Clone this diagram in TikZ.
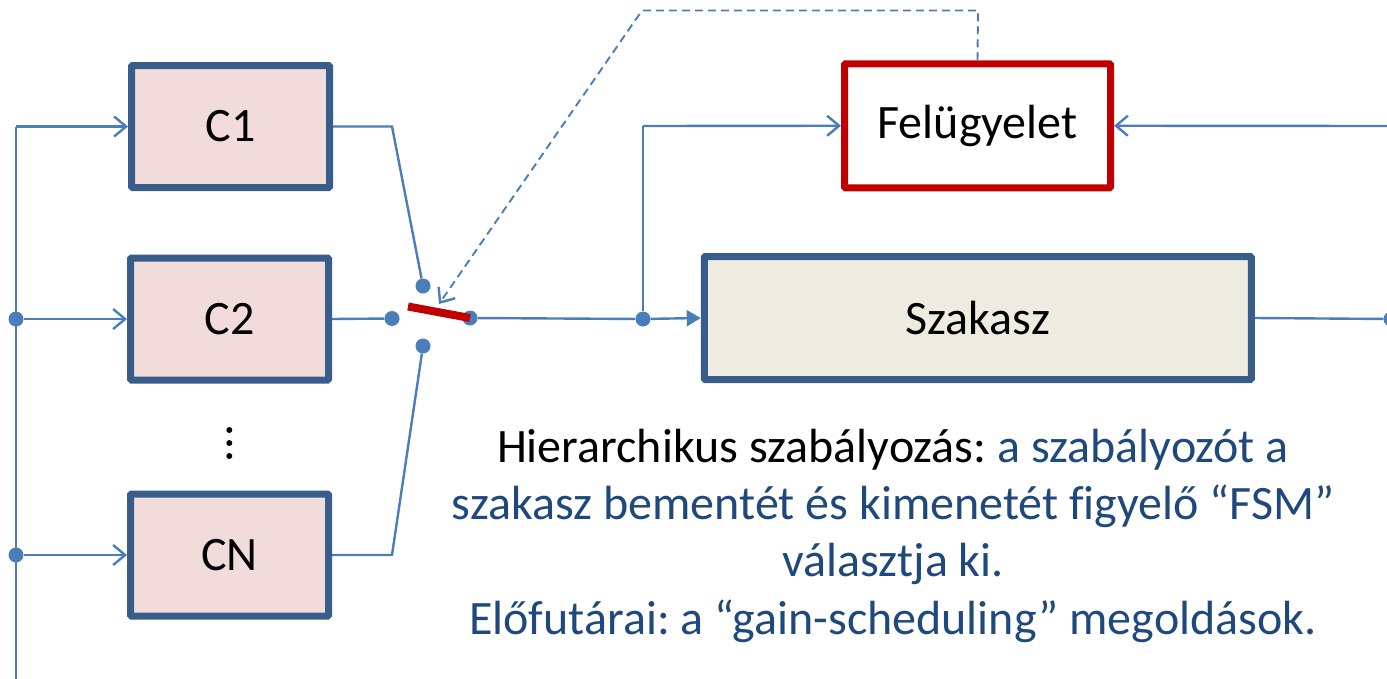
\documentclass[tikz,border=0pt]{standalone}
\usepackage{fontspec}
\setmainfont{Carlito}[Ligatures=NoCommon]
\usetikzlibrary{arrows.meta}
\frenchspacing
\definecolor{lineblue}{HTML}{4A7EBB}
\definecolor{boxborder}{HTML}{385D8A}
\definecolor{cfill}{HTML}{F2DCDB}
\definecolor{sfill}{HTML}{EEECE1}
\definecolor{redbox}{HTML}{C00000}
\definecolor{textblue}{HTML}{1F497D}
\tikzset{
  cbox/.style={draw=boxborder, line width=7pt, fill=cfill, minimum width=198pt, minimum height=122pt, inner sep=0pt, rounded corners=1pt, font=\fontsize{48}{56}\selectfont},
  sbox/.style={draw=boxborder, line width=7pt, fill=sfill, minimum width=547pt, minimum height=123pt, inner sep=0pt, rounded corners=1pt, font=\fontsize{48}{56}\selectfont},
  fbox/.style={draw=redbox, line width=7pt, fill=white, minimum width=266pt, minimum height=124pt, inner sep=0pt, rounded corners=1pt, font=\fontsize{48}{56}\selectfont},
  conn/.style={draw=lineblue, line width=2.4pt},
  barb/.style={-{Straight Barb[length=12pt,width=20pt,line width=2.4pt]}},
  tri/.style={-{Triangle[length=14pt,width=16pt]}},
  dot/.style={circle, fill=lineblue, inner sep=0pt, minimum size=15pt},
  txt/.style={anchor=base, inner sep=0pt, font=\fontsize{48}{57}\selectfont},
}
\begin{document}
\begin{tikzpicture}[x=1pt,y=-1pt]
\clip (0,0) rectangle (1387,678);
\path[use as bounding box] (0,0) rectangle (1387,678);

% boxes
\node[cbox] (C1) at (230.5,126.5) {C1};
\node[cbox] (C2) at (229.5,319) {C2};
\node[cbox] (CN) at (229.5,555) {CN};
\node[fbox] (F) at (977.5,125.75) {Felügyelet};
\node[sbox] (S) at (977.75,318) {Szakasz};

% vertical ellipsis
\foreach \yy in {430,443,456} \fill (229.3,\yy) circle (3pt);

% left bus
\coordinate (bTop) at (16,126.5);
\coordinate (bBot) at (16,680);
\node[dot] (j2) at (16,319) {};
\node[dot] (jN) at (16,555) {};
\draw[conn] (bBot) -- (bTop);
\draw[conn,barb] (bTop) -- (C1.west);
\draw[conn,barb] (j2) -- (C2.west);
\draw[conn,barb] (jN) -- (CN.west);

% switch contacts
\node[dot] (sTop) at (423,286) {};
\node[dot] (sLeft) at (392,318.5) {};
\node[dot] (sBot) at (423,346) {};
\node[dot] (sRight) at (470,318) {};
\coordinate (k1) at (392,126.5);
\coordinate (kN) at (392,555);
\draw[conn] (C1.east) -- (k1) -- (sTop);
\draw[conn] (C2.east) -- (sLeft);
\draw[conn] (CN.east) -- (kN) -- (sBot);
\coordinate (bar) at (408,306.5);
\draw[draw=redbox, line width=8pt] (bar) -- (sRight.center);

% to plant and supervisor
\node[dot] (jS) at (643,319) {};
\coordinate (jF) at (643,126);
\draw[conn] (sRight) -- (jS);
\draw[conn,tri] (jS) -- (S.west);
\draw[conn] (jS) -- (jF);
\draw[conn,barb] (jF) -- (F.west);
\coordinate (rIn) at (1390,126);
\draw[conn,barb] (rIn) -- (F.east);
\node[dot] (out) at (1391,319) {};
\draw[conn] (S.east) -- (out);

% dashed supervisory signal
\coordinate (d1) at (978,10.5);
\coordinate (d2) at (642,10.5);
\coordinate (dTip) at (439,304);
\draw[conn, line width=1.9pt, dash pattern=on 8pt off 5pt, barb] (F.north) -- (d1) -- (d2) -- (dTip);

% caption
\node[txt] (t1) at (893,462) {Hierarchikus szabályozás: \textcolor{textblue}{a szabályozót a}};
\node[txt, text=textblue] (t2) at (893,519.3) {szakasz bementét és kimenetét figyelő “FSM”};
\node[txt, text=textblue] (t3) at (893,576.7) {választja ki.};
\node[txt, text=textblue] (t4) at (893,634) {Előfutárai: a “gain-scheduling” megoldások.};
\end{tikzpicture}
\end{document}
